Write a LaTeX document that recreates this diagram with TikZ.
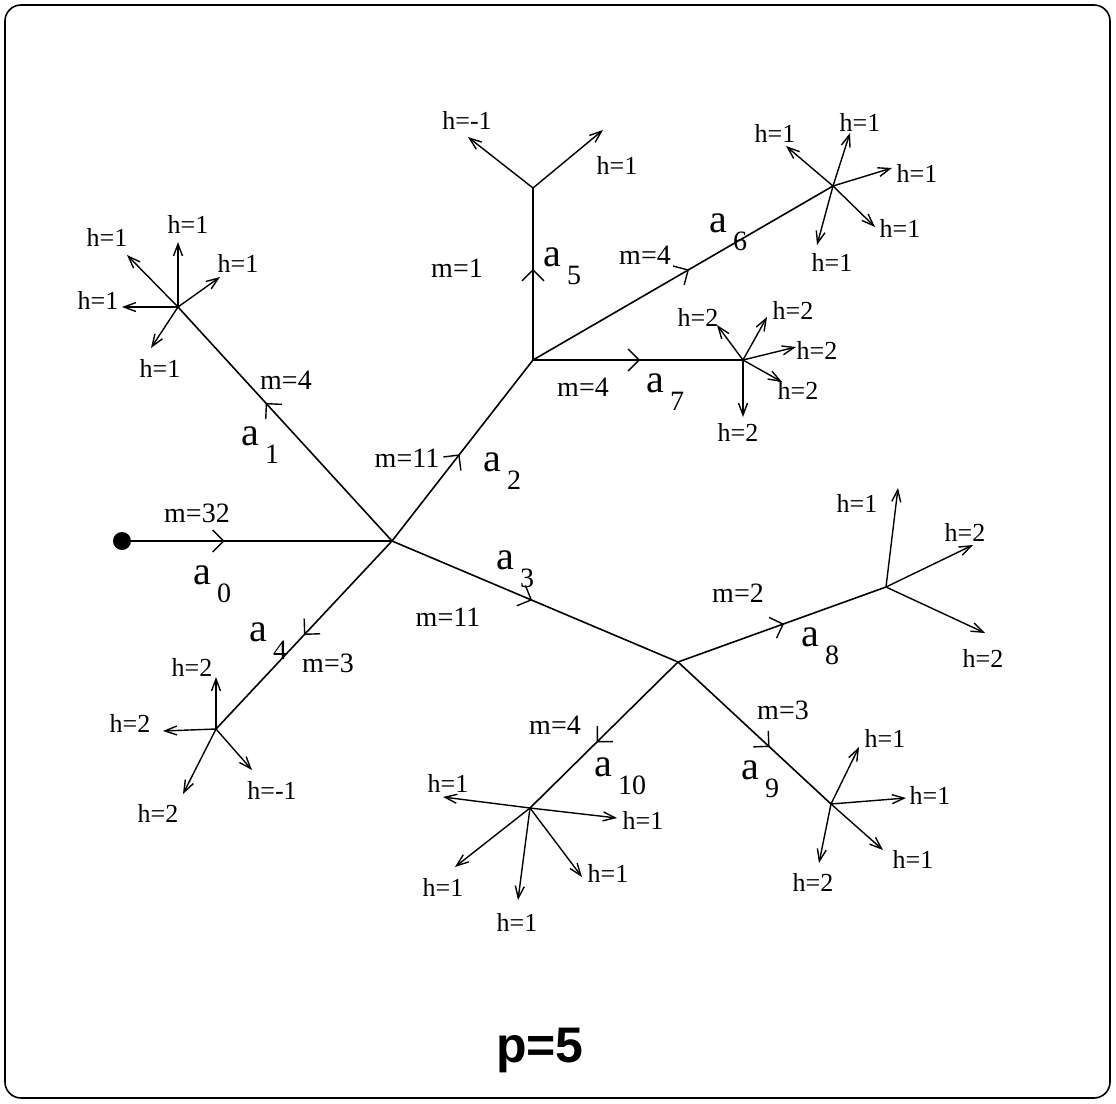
\documentclass[tikz,border=0pt]{standalone}
\usepackage{fontspec}
\setmainfont{Liberation Serif}
\newfontfamily\psans{Liberation Sans}
\usetikzlibrary{arrows.meta,decorations.markings}
\tikzset{
 edge/.style={line width=0.8pt},
 harrow/.style={line width=0.7pt,-{Straight Barb[length=6pt,width=4.5pt]}},
 hlab/.style={font=\fontsize{13}{15}\selectfont, inner sep=0pt},
 mlab/.style={font=\fontsize{14}{16}\selectfont, inner sep=0pt},
 alab/.style={font=\fontsize{20}{22}\selectfont, inner sep=0pt, anchor=base west},
 midmark/.style={postaction={decorate},decoration={markings,mark=at position #1 with {\arrow{Straight Barb[length=5.5pt,width=11pt,line width=0.7pt]}}}},
}
\newcommand\asub[1]{a\hspace{3pt}\raisebox{-9pt}{\fontsize{14}{16}\selectfont #1}}
\newcommand\harr[5]{\coordinate (#2) at (#3); \draw[harrow] (#1) -- (#2); \node[hlab] (#2l) at (#4) {#5};}
\begin{document}
\begin{tikzpicture}[x=0.5pt,y=-0.5pt]
\useasboundingbox (0,0) rectangle (1116,1104);
\draw[line width=0.8pt, rounded corners=8pt] (5,5) rectangle (1110,1098);
% vertices
\node[circle, fill, inner sep=0pt, minimum size=9pt] (R) at (122,541) {};
\coordinate (C) at (392,541);
\coordinate (T1) at (178,307);
\coordinate (N2) at (533,360);
\coordinate (T5) at (533,188);
\coordinate (T6) at (833,186);
\coordinate (T7) at (743,360);
\coordinate (N3) at (678,662);
\coordinate (T8) at (886,587);
\coordinate (T9) at (831,804);
\coordinate (T10) at (530,808);
\coordinate (T4) at (216,729);
% edges
\draw[edge, midmark=0.38] (R.center) -- (C);
\draw[edge, midmark=0.59] (C) -- (T1);
\draw[edge, midmark=0.48] (C) -- (N2);
\draw[edge, midmark=0.49] (C) -- (N3);
\draw[edge, midmark=0.5] (C) -- (T4);
\draw[edge, midmark=0.53] (N2) -- (T5);
\draw[edge, midmark=0.52] (N2) -- (T6);
\draw[edge, midmark=0.51] (N2) -- (T7);
\draw[edge, midmark=0.51] (N3) -- (T8);
\draw[edge, midmark=0.6] (N3) -- (T9);
\draw[edge, midmark=0.55] (N3) -- (T10);
% leaf arrows
\harr{T1}{t1a}{178,242}{188,224}{h=1}
\harr{T1}{t1b}{127,255}{107,237}{h=1}
\harr{T1}{t1c}{220,277}{238,263}{h=1}
\harr{T1}{t1d}{122,307}{98,300}{h=1}
\harr{T1}{t1e}{151,348}{160,368}{h=1}
\harr{T5}{t5a}{468,137}{467,120}{h=-1}
\harr{T5}{t5b}{603,130}{617,165}{h=1}
\harr{T6}{t6a}{786,146}{775,133}{h=1}
\harr{T6}{t6b}{850,133}{860,122}{h=1}
\harr{T6}{t6c}{892,168}{917,173}{h=1}
\harr{T6}{t6d}{875,227}{900,228}{h=1}
\harr{T6}{t6e}{817,245}{832,262}{h=1}
\harr{T7}{t7a}{717,325}{698,317}{h=2}
\harr{T7}{t7b}{767,317}{793,310}{h=2}
\harr{T7}{t7c}{796,347}{817,350}{h=2}
\harr{T7}{t7d}{782,382}{798,390}{h=2}
\harr{T7}{t7e}{743,417}{738,432}{h=2}
\harr{T8}{t8a}{898,488}{857,503}{h=1}
\harr{T8}{t8b}{973,545}{965,532}{h=2}
\harr{T8}{t8c}{985,633}{983,658}{h=2}
\harr{T9}{t9a}{859,747}{885,738}{h=1}
\harr{T9}{t9b}{906,798}{930,795}{h=1}
\harr{T9}{t9c}{883,850}{913,859}{h=1}
\harr{T9}{t9d}{819,863}{813,882}{h=2}
\harr{T10}{t10a}{443,797}{448,783}{h=1}
\harr{T10}{t10b}{617,818}{643,820}{h=1}
\harr{T10}{t10c}{455,867}{443,887}{h=1}
\harr{T10}{t10d}{518,900}{517,922}{h=1}
\harr{T10}{t10e}{582,877}{608,873}{h=1}
\harr{T4}{t4a}{216,677}{192,667}{h=2}
\harr{T4}{t4b}{163,731}{130,723}{h=2}
\harr{T4}{t4c}{183,794}{158,813}{h=2}
\harr{T4}{t4d}{252,770}{272,790}{h=-1}
% m labels
\node[mlab] (m0) at (197,513) {m=32};
\node[mlab] (m1) at (286,380) {m=4};
\node[mlab] (m2) at (407,458) {m=11};
\node[mlab] (m5) at (457,268) {m=1};
\node[mlab] (m6) at (645,255) {m=4};
\node[mlab] (m7) at (583,387) {m=4};
\node[mlab] (m3) at (448,617) {m=11};
\node[mlab] (m4) at (328,663) {m=3};
\node[mlab] (m8) at (738,593) {m=2};
\node[mlab] (m10) at (555,725) {m=4};
\node[mlab] (m9) at (783,710) {m=3};
% a labels
\node[alab] (a0) at (193,584) {\asub{0}};
\node[alab] (a1) at (241,445) {\asub{1}};
\node[alab] (a2) at (483,471) {\asub{2}};
\node[alab] (a3) at (496,569) {\asub{3}};
\node[alab] (a4) at (249,641) {\asub{4}};
\node[alab] (a5) at (543,266) {\asub{5}};
\node[alab] (a6) at (709,232) {\asub{6}};
\node[alab] (a7) at (646,392) {\asub{7}};
\node[alab] (a8) at (801,646) {\asub{8}};
\node[alab] (a9) at (741,779) {\asub{9}};
\node[alab] (a10) at (594,776) {\asub{10}};
% title
\node[font=\psans\bfseries\fontsize{25}{30}\selectfont, inner sep=0pt] (p) at (540,1050) {p=5};
\end{tikzpicture}
\end{document}
